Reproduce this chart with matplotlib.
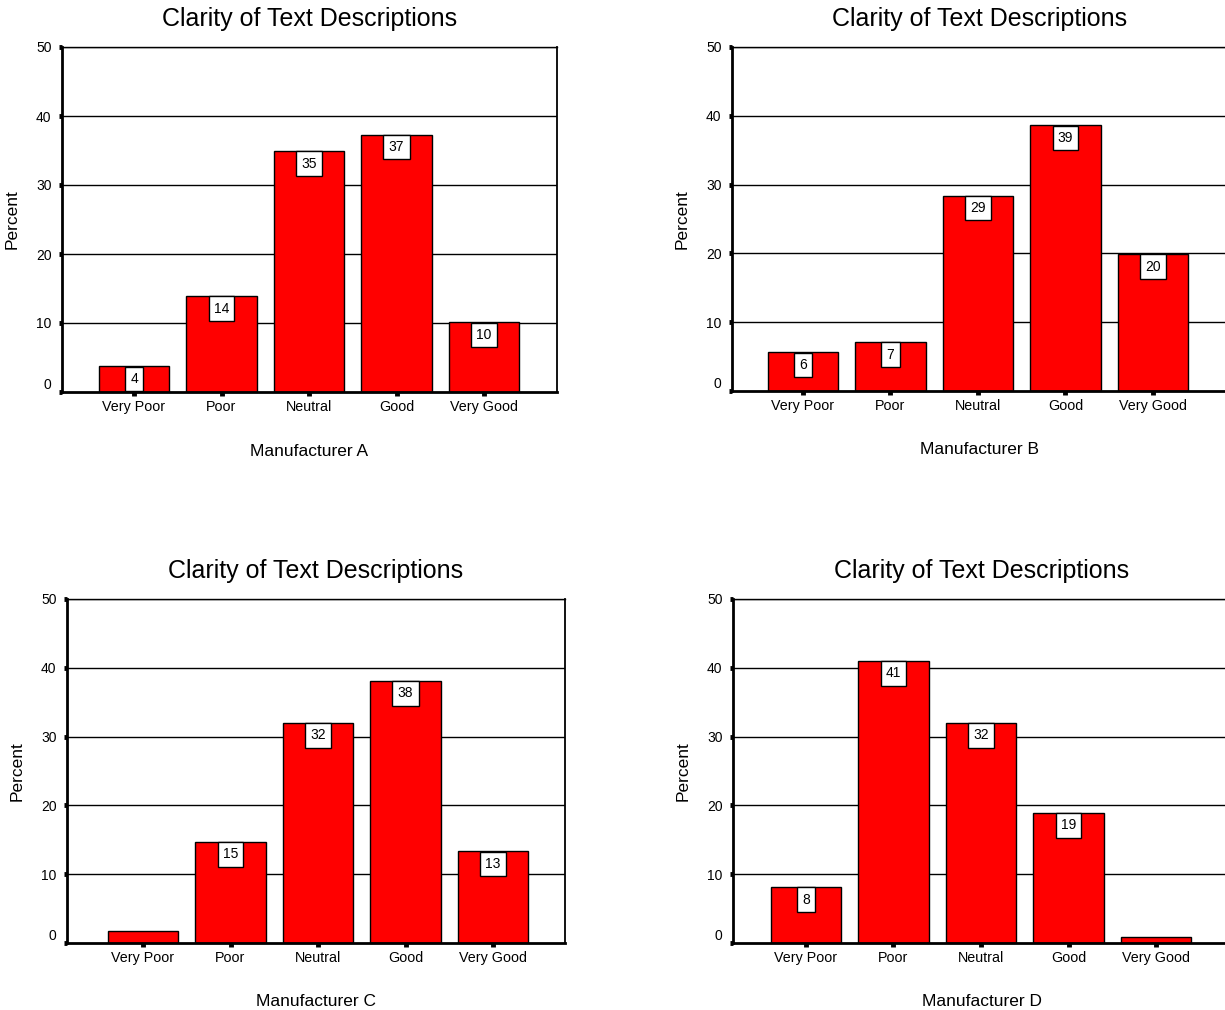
#!/usr/bin/env python3
"""Clarity of text descriptions, four manufacturers, 2x2 bar panels."""

import matplotlib

matplotlib.use("Agg")
from matplotlib import pyplot as plt  # noqa: E402

plt.rcParams["font.family"] = ["Liberation Sans", "DejaVu Sans"]

categories = ["Very Poor", "Poor", "Neutral", "Good", "Very Good"]

pct_a = [3.7, 13.9, 34.9, 37.3, 10.1]
pct_b = [5.6, 7.1, 28.4, 38.6, 19.9]
pct_c = [1.7, 14.7, 32.0, 38.1, 13.3]
pct_d = [8.1, 41.0, 32.0, 18.9, 0.8]

labels_a = [4, 14, 35, 37, 10]
labels_b = [6, 7, 29, 39, 20]
labels_c = [None, 15, 32, 38, 13]
labels_d = [8, 41, 32, 19, None]

y_ticks = [0, 10, 20, 30, 40, 50]

W, H = 1225, 1010
fig = plt.figure(figsize=(W / 100, H / 100), dpi=100)

# (left, right, bottom, top) in pixels, x-limits per panel
panels = [
    ("Manufacturer A", pct_a, labels_a, (62, 557, 392, 47), (-0.823, 4.834)),
    ("Manufacturer B", pct_b, labels_b, (732, 1227, 391, 47), (-0.811, 4.846)),
    ("Manufacturer C", pct_c, labels_c, (67, 565, 943, 599), (-0.869, 4.823)),
    ("Manufacturer D", pct_d, labels_d, (733, 1231, 943, 599), (-0.834, 4.857)),
]

for name, values, labels, (l, r, b, t), xlim in panels:
    ax = fig.add_axes([l / W, 1 - b / H, (r - l) / W, (b - t) / H])
    x = list(range(len(categories)))
    for yv in y_ticks[1:]:
        ax.axhline(yv, color="black", lw=1.0, zorder=1)
    ax.bar(x, values, width=0.81, color="#ff0000", edgecolor="black", lw=1.0, zorder=2)
    for xi, v, lab in zip(x, values, labels):
        if lab is None:
            continue
        ax.annotate(
            str(lab), (xi, v), xytext=(0, -12.5), textcoords="offset pixels",
            ha="center", va="center", fontsize=10, zorder=3,
            bbox=dict(boxstyle="square,pad=0.38", fc="white", ec="black", lw=1.0),
        )
    ax.set_xlim(*xlim)
    ax.set_ylim(0, 50)
    ax.set_yticks(y_ticks)
    ax.set_xticks(x)
    ax.set_xticklabels(categories)
    ax.tick_params(axis="y", direction="out", length=2.5, width=3.5, labelsize=10, pad=5)
    ax.tick_params(axis="x", direction="out", length=3, width=3.5, labelsize=10.3, pad=3)
    ax.get_yticklabels()[0].set_verticalalignment("bottom")
    for side in ("left", "bottom"):
        ax.spines[side].set_linewidth(2.0)
    ax.spines["top"].set_linewidth(1.0)
    ax.spines["right"].set_linewidth(1.3)
    ax.set_ylabel("Percent", fontsize=12.5, labelpad=12)
    ax.set_xlabel(name, fontsize=12.5, labelpad=21)
    ax.set_title("Clarity of Text Descriptions", fontsize=18, pad=15)

fig.savefig("out.png", dpi=100)
